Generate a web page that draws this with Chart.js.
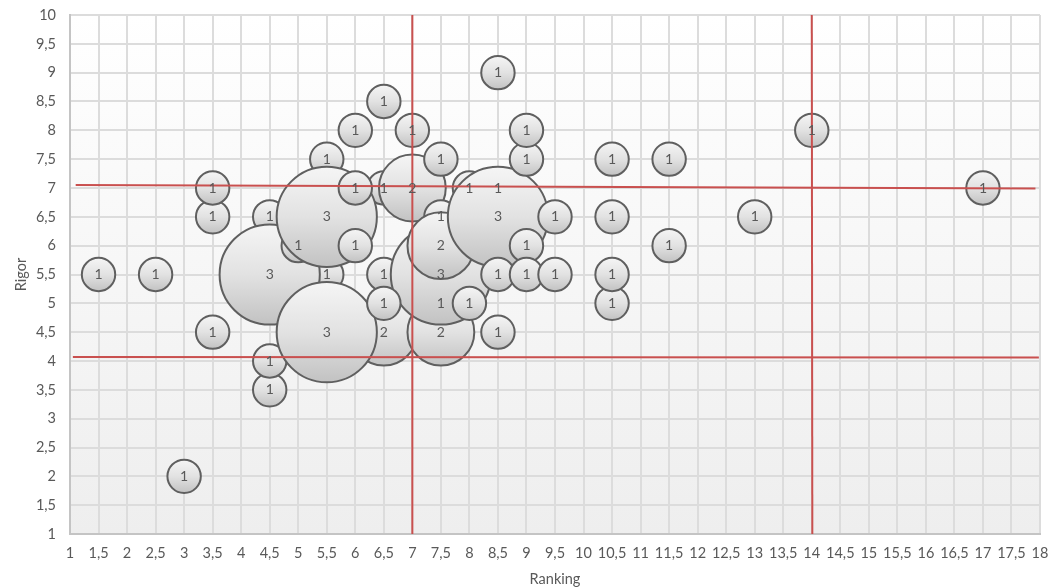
<!DOCTYPE html>
<html>
<head>
<meta charset="utf-8">
<script src="https://cdn.jsdelivr.net/npm/chart.js@4"></script>
<style>
  body { margin: 0; background: #ffffff; }
  #wrap { width: 1064px; height: 588px; }
</style>
</head>
<body>
<div id="wrap"><canvas id="chart"></canvas></div>
<script>
// bubbles in drawing order (later ones sit on top)
const rankX = [5.5, 4.5, 4.5, 4.5, 5.5, 6.5, 6.5, 8, 8.5, 7.5, 4.5, 5, 5.5, 6.5, 5.5, 7.5, 7.5, 7, 7.5, 7.5, 8.5,
  1.5, 2.5, 3, 3.5, 3.5, 3.5, 6, 6, 6, 6.5, 6.5, 7, 7.5, 8, 8.5, 8.5, 8.5, 9, 9, 9, 9, 9.5, 9.5,
  10.5, 10.5, 10.5, 10.5, 11.5, 11.5, 13, 14, 17];
const rigorY = [7.5, 6.5, 3.5, 4, 5.5, 7, 5.5, 7, 7, 5, 5.5, 6, 6.5, 4.5, 4.5, 4.5, 5.5, 7, 6.5, 6, 6.5,
  5.5, 5.5, 2, 6.5, 7, 4.5, 8, 7, 6, 8.5, 5, 8, 7.5, 5, 9, 5.5, 4.5, 7.5, 8, 6, 5.5, 6.5, 5.5,
  7.5, 6.5, 5, 5.5, 7.5, 6, 6.5, 8, 7];
const counts = [1, 1, 1, 1, 1, 1, 1, 1, 1, 1, 3, 1, 3, 2, 3, 2, 3, 2, 1, 2, 3,
  1, 1, 1, 1, 1, 1, 1, 1, 1, 1, 1, 1, 1, 1, 1, 1, 1, 1, 1, 1, 1, 1, 1,
  1, 1, 1, 1, 1, 1, 1, 1, 1];

// red reference lines: [x1, y1, x2, y2]
const refLines = [
  [1.1, 7.05, 17.92, 6.99],
  [1.05, 4.07, 17.98, 4.06],
  [7, 10, 7, 1],
  [14, 10, 14.01, 1]
];

const xTicks = { min: 1, max: 18, step: 0.5 };
const yTicks = { min: 1, max: 10, step: 0.5 };

const RADIUS = 16.7;
const bubbles = rankX.map((x, i) => ({ x: x, y: rigorY[i], r: counts[i] * RADIUS }));

const comma = v => String(v).replace('.', ',');

const bubbleFill = ctx => {
  if (ctx.type !== 'data') return '#dcdcdc';
  const chart = ctx.chart;
  const ys = chart.scales.y;
  if (!ys || !chart.chartArea) return '#dcdcdc';
  const cy = ys.getPixelForValue(ctx.raw.y);
  const r = ctx.raw.r;
  const g = chart.ctx.createLinearGradient(0, cy - r, 0, cy + r);
  g.addColorStop(0, '#f5f5f5');
  g.addColorStop(0.5, '#e2e2e2');
  g.addColorStop(1, '#c2c2c2');
  return g;
};

const plotBackground = {
  id: 'plotBackground',
  beforeDraw(chart) {
    const { ctx, chartArea: a } = chart;
    const g = ctx.createLinearGradient(0, a.top, 0, a.bottom);
    g.addColorStop(0, '#ffffff');
    g.addColorStop(1, '#eeeeee');
    ctx.save();
    ctx.fillStyle = g;
    ctx.fillRect(a.left, a.top, a.right - a.left, a.bottom - a.top);
    ctx.restore();
  }
};

const bubbleLabels = {
  id: 'bubbleLabels',
  afterDatasetsDraw(chart) {
    const ctx = chart.ctx;
    const meta = chart.getDatasetMeta(0);
    ctx.save();
    ctx.font = '14px Lato';
    ctx.fillStyle = '#595959';
    ctx.textAlign = 'center';
    ctx.textBaseline = 'middle';
    meta.data.forEach((el, i) => {
      ctx.fillText(String(counts[i]), el.x, el.y);
    });
    ctx.restore();
  }
};

const lineSets = refLines.map(l => ({
  type: 'line',
  data: [{ x: l[0], y: l[1] }, { x: l[2], y: l[3] }],
  borderColor: '#c9504f',
  borderWidth: 2,
  pointRadius: 0,
  fill: false,
  order: 0
}));

new Chart(document.getElementById('chart'), {
  type: 'bubble',
  data: {
    datasets: [{
      data: bubbles,
      backgroundColor: bubbleFill,
      borderColor: '#5f5f5f',
      borderWidth: 2,
      clip: false,
      order: 1
    }].concat(lineSets)
  },
  options: {
    responsive: true,
    maintainAspectRatio: false,
    animation: false,
    events: [],
    layout: { autoPadding: false, padding: { top: 15, right: 24, left: 0, bottom: 0 } },
    plugins: {
      legend: { display: false },
      tooltip: { enabled: false }
    },
    scales: {
      x: {
        type: 'linear',
        min: xTicks.min,
        max: xTicks.max,
        afterFit: s => { s.height = 54; },
        grid: { color: '#dcdcdc', lineWidth: 2, drawTicks: false },
        border: { color: '#c4c4c4', width: 2 },
        ticks: {
          stepSize: xTicks.step,
          autoSkip: false,
          maxRotation: 0,
          minRotation: 0,
          padding: 11,
          color: '#595959',
          font: { family: 'Lato', size: 14.5 },
          callback: comma
        },
        title: {
          display: true,
          text: 'Ranking',
          color: '#595959',
          font: { family: 'Lato', size: 14.5 },
          padding: { top: 0, bottom: 0 }
        }
      },
      y: {
        type: 'linear',
        min: yTicks.min,
        max: yTicks.max,
        afterFit: s => { s.width = 70; s.paddingTop = 0; s.paddingBottom = 0; },
        grid: { color: '#dcdcdc', lineWidth: 2, drawTicks: false },
        border: { color: '#c4c4c4', width: 2 },
        ticks: {
          stepSize: yTicks.step,
          autoSkip: false,
          padding: 14,
          color: '#595959',
          font: { family: 'Lato', size: 14.5 },
          callback: comma
        },
        title: {
          display: true,
          text: 'Rigor',
          color: '#595959',
          font: { family: 'Lato', size: 14.5 },
          padding: { top: 13, bottom: 0 }
        }
      }
    }
  },
  plugins: [plotBackground, bubbleLabels]
});
</script>
</body>
</html>
